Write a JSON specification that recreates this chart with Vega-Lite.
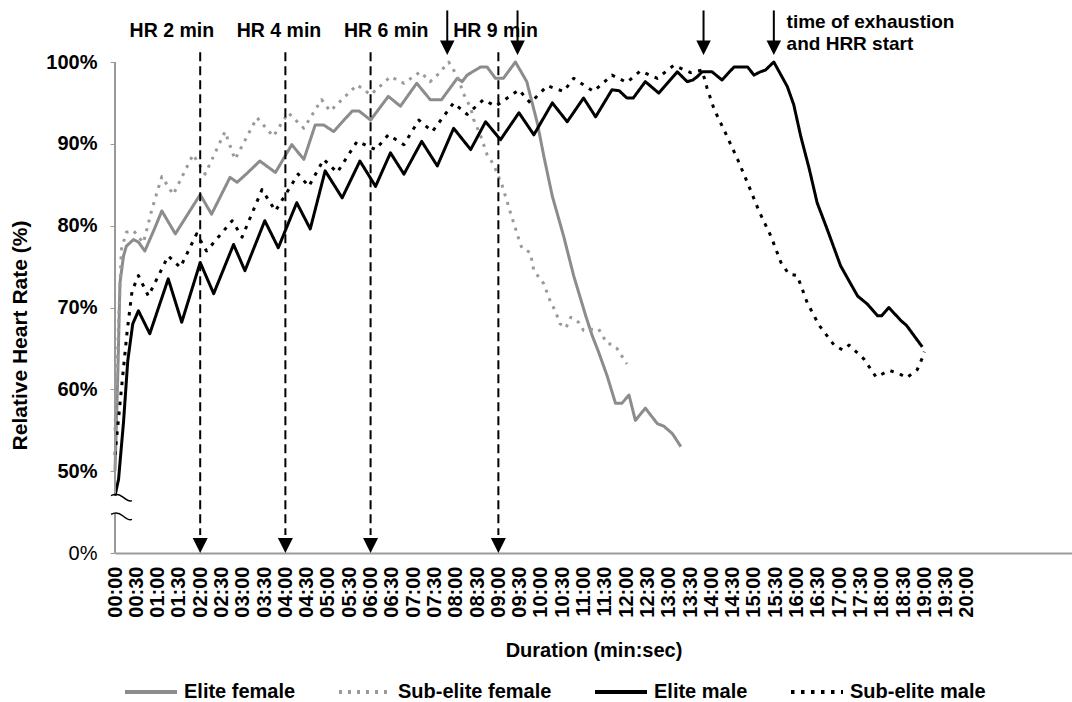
{
  "$schema": "https://vega.github.io/schema/vega-lite/v6.json",
  "width": 957,
  "height": 491,
  "autosize": {"type": "none"},
  "padding": {"left": 115, "top": 62, "right": 0, "bottom": 149},
  "background": "white",
  "config": {"view": {"stroke": null}, "font": "Liberation Sans", "axis": {"labelOverlap": false}},
  "datasets": {
    "hr": [
      {"s":"Elite female","t":0,"v":50},{"s":"Elite female","t":4,"v":62},{"s":"Elite female","t":7,"v":73},{"s":"Elite female","t":12,"v":76.3},{"s":"Elite female","t":16,"v":77.5},{"s":"Elite female","t":26,"v":78.3},{"s":"Elite female","t":33,"v":78.0},{"s":"Elite female","t":42,"v":76.9},{"s":"Elite female","t":55,"v":79.5},{"s":"Elite female","t":66,"v":81.8},{"s":"Elite female","t":85,"v":79.0},{"s":"Elite female","t":120,"v":83.8},{"s":"Elite female","t":136,"v":81.4},{"s":"Elite female","t":162,"v":85.9},{"s":"Elite female","t":172,"v":85.3},{"s":"Elite female","t":186,"v":86.4},{"s":"Elite female","t":204,"v":87.9},{"s":"Elite female","t":226,"v":86.5},{"s":"Elite female","t":249,"v":89.9},{"s":"Elite female","t":266,"v":88.1},{"s":"Elite female","t":282,"v":92.3},{"s":"Elite female","t":294,"v":92.3},{"s":"Elite female","t":308,"v":91.5},{"s":"Elite female","t":334,"v":94.0},{"s":"Elite female","t":344,"v":94.0},{"s":"Elite female","t":360,"v":92.9},{"s":"Elite female","t":385,"v":95.8},{"s":"Elite female","t":402,"v":94.6},{"s":"Elite female","t":425,"v":97.4},{"s":"Elite female","t":444,"v":95.4},{"s":"Elite female","t":460,"v":95.4},{"s":"Elite female","t":482,"v":98.0},{"s":"Elite female","t":489,"v":97.6},{"s":"Elite female","t":496,"v":98.4},{"s":"Elite female","t":515,"v":99.4},{"s":"Elite female","t":524,"v":99.4},{"s":"Elite female","t":536,"v":98.0},{"s":"Elite female","t":547,"v":98.0},{"s":"Elite female","t":564,"v":100},{"s":"Elite female","t":580,"v":97.6},{"s":"Elite female","t":595,"v":92.5},{"s":"Elite female","t":604,"v":88.5},{"s":"Elite female","t":616,"v":83.6},{"s":"Elite female","t":632,"v":78.7},{"s":"Elite female","t":646,"v":73.9},{"s":"Elite female","t":663,"v":69.0},{"s":"Elite female","t":672,"v":66.6},{"s":"Elite female","t":681,"v":64.6},{"s":"Elite female","t":693,"v":61.7},{"s":"Elite female","t":705,"v":58.3},{"s":"Elite female","t":714,"v":58.3},{"s":"Elite female","t":724,"v":59.3},{"s":"Elite female","t":733,"v":56.2},{"s":"Elite female","t":747,"v":57.7},{"s":"Elite female","t":764,"v":55.8},{"s":"Elite female","t":773,"v":55.5},{"s":"Elite female","t":785,"v":54.6},{"s":"Elite female","t":797,"v":53.0},
      {"s":"Sub-elite female","t":0,"v":55},{"s":"Sub-elite female","t":5,"v":68},{"s":"Sub-elite female","t":9,"v":77.1},{"s":"Sub-elite female","t":16,"v":79.2},{"s":"Sub-elite female","t":26,"v":79.4},{"s":"Sub-elite female","t":40,"v":77.9},{"s":"Sub-elite female","t":52,"v":82},{"s":"Sub-elite female","t":66,"v":86},{"s":"Sub-elite female","t":82,"v":83.8},{"s":"Sub-elite female","t":110,"v":88.7},{"s":"Sub-elite female","t":127,"v":86.3},{"s":"Sub-elite female","t":155,"v":91.5},{"s":"Sub-elite female","t":169,"v":88.1},{"s":"Sub-elite female","t":200,"v":93.2},{"s":"Sub-elite female","t":223,"v":90.9},{"s":"Sub-elite female","t":244,"v":93.8},{"s":"Sub-elite female","t":266,"v":91.9},{"s":"Sub-elite female","t":291,"v":95.4},{"s":"Sub-elite female","t":303,"v":94.0},{"s":"Sub-elite female","t":341,"v":97.2},{"s":"Sub-elite female","t":360,"v":96.0},{"s":"Sub-elite female","t":388,"v":98.2},{"s":"Sub-elite female","t":407,"v":97.4},{"s":"Sub-elite female","t":430,"v":98.8},{"s":"Sub-elite female","t":444,"v":97.6},{"s":"Sub-elite female","t":455,"v":98.5},{"s":"Sub-elite female","t":470,"v":100},{"s":"Sub-elite female","t":482,"v":98.3},{"s":"Sub-elite female","t":491,"v":96.1},{"s":"Sub-elite female","t":501,"v":94.4},{"s":"Sub-elite female","t":505,"v":93.0},{"s":"Sub-elite female","t":515,"v":91.0},{"s":"Sub-elite female","t":524,"v":88.7},{"s":"Sub-elite female","t":533,"v":87.5},{"s":"Sub-elite female","t":545,"v":85.0},{"s":"Sub-elite female","t":557,"v":81.6},{"s":"Sub-elite female","t":569,"v":78.3},{"s":"Sub-elite female","t":573,"v":77.3},{"s":"Sub-elite female","t":585,"v":76.7},{"s":"Sub-elite female","t":590,"v":74.5},{"s":"Sub-elite female","t":604,"v":72.9},{"s":"Sub-elite female","t":613,"v":70.8},{"s":"Sub-elite female","t":620,"v":69.6},{"s":"Sub-elite female","t":627,"v":68.0},{"s":"Sub-elite female","t":635,"v":67.5},{"s":"Sub-elite female","t":642,"v":68.8},{"s":"Sub-elite female","t":653,"v":68.2},{"s":"Sub-elite female","t":660,"v":67.2},{"s":"Sub-elite female","t":670,"v":67.3},{"s":"Sub-elite female","t":681,"v":67.4},{"s":"Sub-elite female","t":693,"v":65.6},{"s":"Sub-elite female","t":700,"v":65.5},{"s":"Sub-elite female","t":707,"v":65.0},{"s":"Sub-elite female","t":721,"v":63.1},
      {"s":"Elite male","t":0,"v":47},{"s":"Elite male","t":5,"v":49},{"s":"Elite male","t":12,"v":56},{"s":"Elite male","t":18,"v":63.5},{"s":"Elite male","t":25,"v":68},{"s":"Elite male","t":33,"v":69.6},{"s":"Elite male","t":49,"v":66.8},{"s":"Elite male","t":75,"v":73.5},{"s":"Elite male","t":94,"v":68.2},{"s":"Elite male","t":120,"v":75.5},{"s":"Elite male","t":139,"v":71.7},{"s":"Elite male","t":167,"v":77.7},{"s":"Elite male","t":183,"v":74.5},{"s":"Elite male","t":211,"v":80.6},{"s":"Elite male","t":230,"v":77.3},{"s":"Elite male","t":256,"v":82.8},{"s":"Elite male","t":275,"v":79.6},{"s":"Elite male","t":296,"v":86.7},{"s":"Elite male","t":320,"v":83.4},{"s":"Elite male","t":345,"v":87.9},{"s":"Elite male","t":367,"v":84.8},{"s":"Elite male","t":388,"v":88.9},{"s":"Elite male","t":407,"v":86.3},{"s":"Elite male","t":432,"v":90.3},{"s":"Elite male","t":454,"v":87.3},{"s":"Elite male","t":477,"v":91.9},{"s":"Elite male","t":501,"v":89.3},{"s":"Elite male","t":522,"v":92.7},{"s":"Elite male","t":543,"v":90.5},{"s":"Elite male","t":569,"v":93.8},{"s":"Elite male","t":590,"v":91.1},{"s":"Elite male","t":616,"v":95.0},{"s":"Elite male","t":637,"v":92.7},{"s":"Elite male","t":660,"v":95.6},{"s":"Elite male","t":677,"v":93.3},{"s":"Elite male","t":700,"v":96.6},{"s":"Elite male","t":710,"v":96.5},{"s":"Elite male","t":721,"v":95.6},{"s":"Elite male","t":730,"v":95.6},{"s":"Elite male","t":747,"v":97.6},{"s":"Elite male","t":766,"v":96.2},{"s":"Elite male","t":792,"v":98.8},{"s":"Elite male","t":806,"v":97.6},{"s":"Elite male","t":814,"v":97.8},{"s":"Elite male","t":820,"v":98.2},{"s":"Elite male","t":827,"v":98.8},{"s":"Elite male","t":841,"v":98.8},{"s":"Elite male","t":855,"v":97.8},{"s":"Elite male","t":872,"v":99.4},{"s":"Elite male","t":891,"v":99.4},{"s":"Elite male","t":900,"v":98.4},{"s":"Elite male","t":909,"v":98.8},{"s":"Elite male","t":916,"v":99.0},{"s":"Elite male","t":928,"v":100},{"s":"Elite male","t":947,"v":97.0},{"s":"Elite male","t":956,"v":94.8},{"s":"Elite male","t":966,"v":90.9},{"s":"Elite male","t":978,"v":86.9},{"s":"Elite male","t":989,"v":82.8},{"s":"Elite male","t":1003,"v":79.6},{"s":"Elite male","t":1022,"v":75.1},{"s":"Elite male","t":1046,"v":71.4},{"s":"Elite male","t":1060,"v":70.4},{"s":"Elite male","t":1074,"v":69.0},{"s":"Elite male","t":1080,"v":69.0},{"s":"Elite male","t":1090,"v":70.0},{"s":"Elite male","t":1107,"v":68.4},{"s":"Elite male","t":1115,"v":67.8},{"s":"Elite male","t":1137,"v":65.2},
      {"s":"Sub-elite male","t":0,"v":52},{"s":"Sub-elite male","t":9,"v":60},{"s":"Sub-elite male","t":17,"v":67},{"s":"Sub-elite male","t":24,"v":72},{"s":"Sub-elite male","t":33,"v":73.9},{"s":"Sub-elite male","t":47,"v":71.4},{"s":"Sub-elite male","t":75,"v":76.3},{"s":"Sub-elite male","t":92,"v":74.9},{"s":"Sub-elite male","t":115,"v":79.0},{"s":"Sub-elite male","t":129,"v":76.9},{"s":"Sub-elite male","t":165,"v":80.6},{"s":"Sub-elite male","t":179,"v":78.6},{"s":"Sub-elite male","t":207,"v":84.4},{"s":"Sub-elite male","t":226,"v":81.8},{"s":"Sub-elite male","t":258,"v":86.3},{"s":"Sub-elite male","t":273,"v":84.8},{"s":"Sub-elite male","t":294,"v":88.1},{"s":"Sub-elite male","t":313,"v":86.5},{"s":"Sub-elite male","t":341,"v":90.3},{"s":"Sub-elite male","t":367,"v":89.3},{"s":"Sub-elite male","t":385,"v":91.1},{"s":"Sub-elite male","t":407,"v":89.9},{"s":"Sub-elite male","t":428,"v":92.9},{"s":"Sub-elite male","t":447,"v":91.5},{"s":"Sub-elite male","t":477,"v":95.0},{"s":"Sub-elite male","t":496,"v":93.6},{"s":"Sub-elite male","t":519,"v":95.4},{"s":"Sub-elite male","t":536,"v":94.6},{"s":"Sub-elite male","t":569,"v":96.6},{"s":"Sub-elite male","t":585,"v":95.0},{"s":"Sub-elite male","t":609,"v":97.1},{"s":"Sub-elite male","t":632,"v":96.4},{"s":"Sub-elite male","t":646,"v":98.0},{"s":"Sub-elite male","t":674,"v":96.4},{"s":"Sub-elite male","t":700,"v":98.4},{"s":"Sub-elite male","t":721,"v":97.5},{"s":"Sub-elite male","t":740,"v":98.9},{"s":"Sub-elite male","t":764,"v":98.0},{"s":"Sub-elite male","t":787,"v":99.6},{"s":"Sub-elite male","t":811,"v":98.7},{"s":"Sub-elite male","t":827,"v":99.0},{"s":"Sub-elite male","t":834,"v":96.8},{"s":"Sub-elite male","t":844,"v":94.2},{"s":"Sub-elite male","t":860,"v":91.3},{"s":"Sub-elite male","t":877,"v":88.1},{"s":"Sub-elite male","t":893,"v":84.8},{"s":"Sub-elite male","t":907,"v":81.8},{"s":"Sub-elite male","t":924,"v":78.7},{"s":"Sub-elite male","t":938,"v":75.5},{"s":"Sub-elite male","t":949,"v":74.1},{"s":"Sub-elite male","t":961,"v":73.9},{"s":"Sub-elite male","t":975,"v":70.6},{"s":"Sub-elite male","t":992,"v":67.8},{"s":"Sub-elite male","t":1013,"v":65.4},{"s":"Sub-elite male","t":1025,"v":64.8},{"s":"Sub-elite male","t":1034,"v":65.4},{"s":"Sub-elite male","t":1055,"v":63.7},{"s":"Sub-elite male","t":1072,"v":61.5},{"s":"Sub-elite male","t":1091,"v":62.3},{"s":"Sub-elite male","t":1105,"v":61.9},{"s":"Sub-elite male","t":1115,"v":61.4},{"s":"Sub-elite male","t":1130,"v":62.4},{"s":"Sub-elite male","t":1137,"v":63.8},{"s":"Sub-elite male","t":1140,"v":64.6}
    ],
    "hrmarks": [
      {"t":120,"label":"HR 2 min","lx":80},
      {"t":240,"label":"HR 4 min","lx":231},
      {"t":360,"label":"HR 6 min","lx":382},
      {"t":540,"label":"HR 9 min","lx":536}
    ],
    "peaks": [
      {"t":468,"s":"Sub-elite female"},
      {"t":567,"s":"Elite female"},
      {"t":829,"s":"Sub-elite male"},
      {"t":928,"s":"Elite male"}
    ],
    "note": [
      {"t":946,"label":"time of exhaustion\nand HRR start"}
    ]
  },
  "layer": [
    {
      "data": {"name": "hr"},
      "mark": {"type": "line", "strokeWidth": 3, "strokeJoin": "round"},
      "encoding": {
        "x": {
          "field": "t", "type": "quantitative",
          "scale": {"domain": [0, 1348], "nice": false, "zero": false},
          "title": "Duration (min:sec)",
          "axis": {
            "values": [0,30,60,90,120,150,180,210,240,270,300,330,360,390,420,450,480,510,540,570,600,630,660,690,720,750,780,810,840,870,900,930,960,990,1020,1050,1080,1110,1140,1170,1200],
            "tickCount": 100,
            "labelExpr": "utcFormat(datum.value*1000,'%M:%S')",
            "labelAngle": -90,
            "labelOverlap": false,
            "labelFlush": false,
            "labelFontSize": 20,
            "labelFontWeight": "bold",
            "labelColor": "black",
            "labelPadding": 13,
            "ticks": false,
            "tickSize": 0,
            "grid": false,
            "domainColor": "#999999",
            "domainWidth": 2,
            "titleFontSize": 20,
            "titleFontWeight": "bold",
            "titleColor": "black",
            "titlePadding": 23
          }
        },
        "y": {
          "field": "v", "type": "quantitative",
          "scale": {"domain": [40, 100], "nice": false, "zero": false},
          "title": "Relative Heart Rate (%)",
          "axis": {
            "values": [40,50,60,70,80,90,100],
            "tickCount": 20,
            "labelExpr": "datum.value == 40 ? '0%' : datum.value + '%'",
            "domain": false,
            "grid": false,
            "tickSize": 5,
            "tickColor": "#999999",
            "labelFontSize": 20,
            "labelFontWeight": {"condition": {"test": "datum.value == 40", "value": "normal"}, "value": "bold"},
            "labelColor": "black",
            "labelPadding": 13,
            "titleFontSize": 21,
            "titleFontWeight": "bold",
            "titleColor": "black",
            "titlePadding": 15,
            "titleY": 273
          }
        },
        "color": {
          "field": "s", "type": "nominal",
          "scale": {"domain": ["Elite female","Sub-elite female","Elite male","Sub-elite male"], "range": ["#8c8c8c","#9a9a9a","#000000","#000000"]},
          "legend": {"orient": "none", "legendX": 8, "legendY": 602, "direction": "horizontal", "columns": 4, "title": null, "symbolType": "stroke", "symbolSize": 2704, "symbolStrokeWidth": 4, "labelFontSize": 20, "labelFontWeight": "bold", "labelColor": "black", "labelOffset": 5, "columnPadding": 35, "padding": 0, "labelLimit": 400}
        },
        "strokeDash": {
          "field": "s", "type": "nominal",
          "scale": {"domain": ["Elite female","Sub-elite female","Elite male","Sub-elite male"], "range": [[1,0],[3,6],[1,0],[3.5,6.5]]},
          "legend": {"orient": "none", "legendX": 8, "legendY": 602, "direction": "horizontal", "columns": 4, "title": null, "symbolType": "stroke", "symbolSize": 2704, "symbolStrokeWidth": 4, "labelFontSize": 20, "labelFontWeight": "bold", "labelColor": "black", "labelOffset": 5, "columnPadding": 35, "padding": 0, "labelLimit": 400}
        }
      }
    },
    {
      "data": {"name": "hrmarks"},
      "mark": {"type": "rule", "strokeDash": [9, 5], "strokeWidth": 2, "color": "black"},
      "encoding": {
        "x": {"field": "t", "type": "quantitative"},
        "y": {"datum": 101.2},
        "y2": {"datum": 42.2}
      }
    },
    {
      "data": {"name": "hrmarks"},
      "mark": {"type": "point", "shape": "M-1,-2L1,-2L0,0Z", "filled": true, "color": "black", "opacity": 1, "size": 225},
      "encoding": {
        "x": {"field": "t", "type": "quantitative"},
        "y": {"datum": 40}
      }
    },
    {
      "data": {"name": "hrmarks"},
      "mark": {"type": "text", "fontSize": 19.5, "fontWeight": "bold", "color": "black", "align": "center", "baseline": "alphabetic"},
      "encoding": {
        "x": {"field": "lx", "type": "quantitative"},
        "y": {"datum": 103.1},
        "text": {"field": "label"}
      }
    },
    {
      "data": {"name": "peaks"},
      "mark": {"type": "rule", "strokeWidth": 2, "color": "black"},
      "encoding": {
        "x": {"field": "t", "type": "quantitative"},
        "y": {"datum": 106.3},
        "y2": {"datum": 102.3}
      }
    },
    {
      "data": {"name": "peaks"},
      "mark": {"type": "point", "shape": "M-1,-2L1,-2L0,0Z", "filled": true, "color": "black", "opacity": 1, "size": 210},
      "encoding": {
        "x": {"field": "t", "type": "quantitative"},
        "y": {"datum": 100.85}
      }
    },
    {
      "data": {"name": "note"},
      "mark": {"type": "text", "fontSize": 19, "fontWeight": "bold", "color": "black", "align": "left", "baseline": "alphabetic", "lineBreak": "\n", "lineHeight": 22.7},
      "encoding": {
        "x": {"field": "t", "type": "quantitative"},
        "y": {"datum": 104.2},
        "text": {"field": "label"}
      }
    },
    {
      "data": {"values": [{}]},
      "mark": {"type": "rule", "strokeWidth": 2, "color": "#999999"},
      "encoding": {
        "x": {"datum": 0},
        "y": {"datum": 47.1},
        "y2": {"datum": 100}
      }
    },
    {
      "data": {"values": [{}]},
      "mark": {"type": "rule", "strokeWidth": 2, "color": "#999999"},
      "encoding": {
        "x": {"datum": 0},
        "y": {"datum": 40},
        "y2": {"datum": 44.8}
      }
    },
    {
      "data": {"values": [{"b": 47.07}, {"b": 44.77}]},
      "mark": {"type": "point", "shape": "M-0.8,0.1 Q0.4,-0.6 1.6,0.4 T3.4,1.1", "filled": false, "color": "black", "opacity": 1, "strokeWidth": 1.4, "size": 100},
      "encoding": {
        "x": {"datum": 0},
        "y": {"field": "b", "type": "quantitative"}
      }
    }
  ]
}
